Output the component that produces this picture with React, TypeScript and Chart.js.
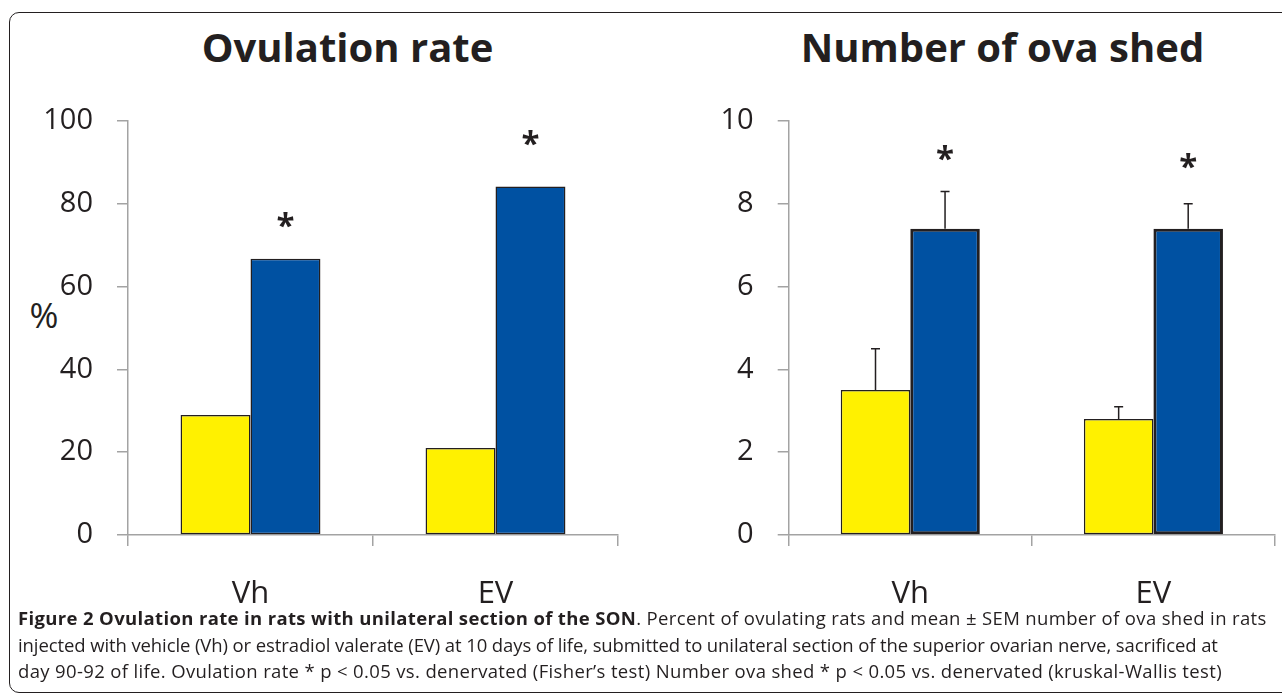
import React, { useEffect, useRef } from 'react';
import { Chart, registerables } from 'chart.js';

Chart.register(...registerables);

// ---------- data ----------
const categories = ['Vh', 'EV'];

// Ovulation rate (%)
const ovulationDenervated = [29, 21];
const ovulationIntact = [66.7, 84.2];
const ovulationStarLevel = [76, 96];
const ovulationTicks = [0, 20, 40, 60, 80, 100];

// Number of ova shed (mean ± SEM)
const ovaDenervated = [3.5, 2.8];
const ovaDenervatedSem = [1.0, 0.3];
const ovaIntact = [7.4, 7.4];
const ovaIntactSem = [0.9, 0.6];
const ovaStarLevel = [9.23, 9.03];
const ovaTicks = [0, 2, 4, 6, 8, 10];

const INK = '#231f20';
const AXIS = '#a3a3a3';
const YELLOW = '#fff100';
const BLUE = '#0051a2';
const FONT = "'Open Sans', sans-serif";

const annotationPlugin = {
  id: 'errorsAndStars',
  afterDatasetsDraw(chart: any) {
    const ctx = chart.ctx;
    const yScale = chart.scales.y;
    chart.data.datasets.forEach((ds: any, di: number) => {
      const meta = chart.getDatasetMeta(di);
      if (ds.errors) {
        meta.data.forEach((el: any, i: number) => {
          const v = ds.data[i];
          const e = ds.errors[i];
          const x = el.x;
          const y0 = yScale.getPixelForValue(v);
          const y1 = yScale.getPixelForValue(v + e);
          ctx.save();
          ctx.strokeStyle = INK;
          ctx.lineWidth = 1.5;
          ctx.beginPath();
          ctx.moveTo(x, y0);
          ctx.lineTo(x, y1);
          ctx.moveTo(x - 4.5, y1);
          ctx.lineTo(x + 4.5, y1);
          ctx.stroke();
          ctx.restore();
        });
      }
      if (ds.stars) {
        meta.data.forEach((el: any, i: number) => {
          const level = ds.stars[i];
          if (level == null) return;
          const cy = yScale.getPixelForValue(level);
          ctx.save();
          ctx.fillStyle = INK;
          ctx.font = `bold 33px ${FONT}`;
          ctx.textAlign = 'left';
          ctx.textBaseline = 'alphabetic';
          const m = ctx.measureText('*');
          const w = m.actualBoundingBoxLeft + m.actualBoundingBoxRight;
          const h = m.actualBoundingBoxAscent + m.actualBoundingBoxDescent;
          const x = el.x - w / 2 + m.actualBoundingBoxLeft;
          const y = cy + h / 2 - m.actualBoundingBoxDescent;
          ctx.fillText('*', x, y);
          ctx.restore();
        });
      }
    });
  },
};

function makeChart(
  canvas: HTMLCanvasElement,
  opts: {
    low: number[];
    lowErr?: number[];
    high: number[];
    highErr?: number[];
    stars: number[];
    ticks: number[];
    axisWidth: number;
    padRight: number;
    padTop: number;
    xHeight: number;
    highBorder: number;
    catPct: number;
  }
) {
  const t = opts.ticks;
  return new Chart(canvas, {
    type: 'bar',
    data: {
      labels: categories,
      datasets: [
        {
          label: 'Denervated',
          data: opts.low,
          backgroundColor: YELLOW,
          borderColor: INK,
          borderWidth: 1.5,
          borderSkipped: false,
          errors: opts.lowErr,
        } as any,
        {
          label: 'Intact',
          data: opts.high,
          backgroundColor: BLUE,
          borderColor: INK,
          borderWidth: opts.highBorder,
          borderSkipped: false,
          errors: opts.highErr,
          stars: opts.stars,
        } as any,
      ],
    },
    options: {
      responsive: false,
      animation: false,
      events: [],
      layout: { padding: { top: opts.padTop, right: opts.padRight, bottom: 0, left: 0 } },
      datasets: { bar: { categoryPercentage: opts.catPct, barPercentage: 1 } },
      plugins: { legend: { display: false }, title: { display: false }, tooltip: { enabled: false } },
      scales: {
        x: {
          type: 'category',
          offset: true,
          grid: {
            display: true,
            drawOnChartArea: false,
            drawTicks: true,
            tickLength: 11,
            color: AXIS,
            lineWidth: 1.5,
            offset: true,
          },
          border: { display: true, color: AXIS, width: 1.5 },
          ticks: { font: { family: FONT, size: 31 }, color: INK, padding: 30, maxRotation: 0 },
          afterFit: (s: any) => {
            s.height = opts.xHeight;
          },
        },
        y: {
          min: t[0],
          max: t[t.length - 1],
          grid: {
            display: true,
            drawOnChartArea: false,
            drawTicks: true,
            tickLength: 11,
            color: AXIS,
            lineWidth: 1.5,
          },
          border: { display: true, color: AXIS, width: 1.5 },
          ticks: {
            stepSize: t[1] - t[0],
            font: { family: FONT, size: 29 },
            color: INK,
            padding: 24,
          },
          afterFit: (s: any) => {
            s.width = opts.axisWidth;
          },
        },
      },
    } as any,
    plugins: [annotationPlugin],
  });
}

export default function App() {
  const leftRef = useRef<HTMLCanvasElement>(null);
  const rightRef = useRef<HTMLCanvasElement>(null);

  useEffect(() => {
    Chart.defaults.font.family = FONT;
    const c1 = makeChart(leftRef.current!, {
      low: ovulationDenervated,
      high: ovulationIntact,
      stars: ovulationStarLevel,
      ticks: ovulationTicks,
      axisWidth: 128,
      padRight: 22,
      padTop: 121,
      xHeight: 85,
      highBorder: 1.5,
      catPct: 0.571,
    });
    const c2 = makeChart(rightRef.current!, {
      low: ovaDenervated,
      lowErr: ovaDenervatedSem,
      high: ovaIntact,
      highErr: ovaIntactSem,
      stars: ovaStarLevel,
      ticks: ovaTicks,
      axisWidth: 148.7,
      padRight: 7,
      padTop: 121,
      xHeight: 85,
      highBorder: 3,
      catPct: 0.572,
    });
    return () => {
      c1.destroy();
      c2.destroy();
    };
  }, []);

  const titleStyle: React.CSSProperties = {
    position: 'absolute',
    top: 26.5,
    width: 600,
    textAlign: 'center',
    fontFamily: FONT,
    fontWeight: 700,
    fontSize: 40,
    lineHeight: '40px',
    color: INK,
    whiteSpace: 'nowrap',
  };
  const capStyle: React.CSSProperties = {
    fontFamily: FONT,
    fontSize: 18.5,
    letterSpacing: '0.35px',
    lineHeight: '26.5px',
    color: INK,
    whiteSpace: 'nowrap',
  };

  return (
    <div
      style={{
        position: 'absolute',
        left: 0,
        top: 0,
        width: 1282,
        height: 698,
        overflow: 'hidden',
        background: '#fff',
      }}
    >
      <div
        style={{
          position: 'absolute',
          left: 9,
          top: 12,
          width: 1320,
          height: 681,
          border: `1.5px solid ${INK}`,
          borderRadius: 10,
          boxSizing: 'border-box',
        }}
      />
      <div style={{ ...titleStyle, left: 347.5 - 300 }}>Ovulation rate</div>
      <div style={{ ...titleStyle, left: 1002.5 - 300 }}>Number of ova shed</div>
      <div
        style={{
          position: 'absolute',
          left: 19,
          top: 297,
          width: 50,
          textAlign: 'center',
          fontFamily: FONT,
          fontSize: 35,
          lineHeight: '35px',
          color: INK,
        }}
      >
        %
      </div>
      <canvas
        ref={leftRef}
        width={640}
        height={620}
        style={{ position: 'absolute', left: 0, top: 0, width: 640, height: 620 }}
      />
      <canvas
        ref={rightRef}
        width={642}
        height={620}
        style={{ position: 'absolute', left: 640, top: 0, width: 642, height: 620 }}
      />
      <div style={{ position: 'absolute', left: 18, top: 605 }}>
        <div style={capStyle}>
          <b>Figure 2 Ovulation rate in rats with unilateral section of the SON</b>. Percent of ovulating rats and
          mean ± SEM number of ova shed in rats
        </div>
        <div style={{ ...capStyle, letterSpacing: '-0.1px' }}>
          injected with vehicle (Vh) or estradiol valerate (EV) at 10 days of life, submitted to unilateral section
          of the superior ovarian nerve, sacrificed at
        </div>
        <div style={capStyle}>
          day 90-92 of life. Ovulation rate * p &lt; 0.05 vs. denervated (Fisher’s test) Number ova shed * p &lt;
          0.05 vs. denervated (kruskal-Wallis test)
        </div>
      </div>
    </div>
  );
}
